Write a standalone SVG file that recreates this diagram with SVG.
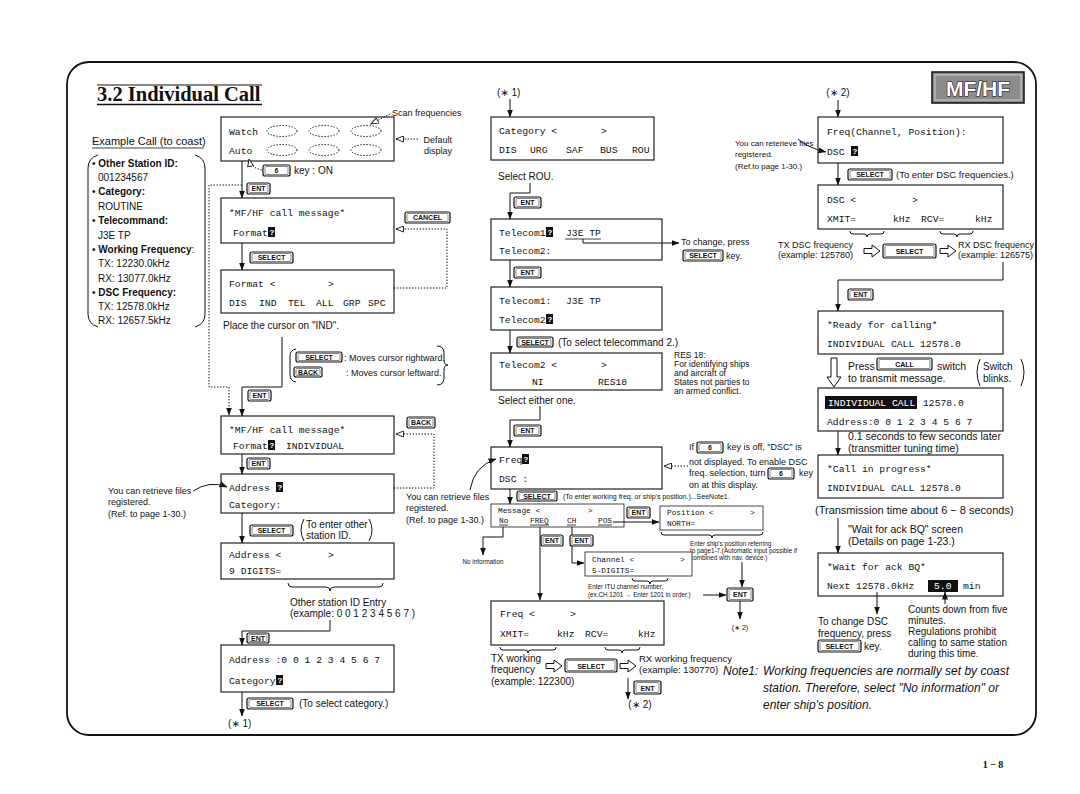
<svg xmlns="http://www.w3.org/2000/svg" width="1080" height="794" viewBox="0 0 1080 794">
<defs>
<style>
text{fill:#111}
.s{font-family:"Liberation Sans",Arial,"DejaVu Sans",sans-serif}
.sr{font-family:"Liberation Serif","Times New Roman",serif}
.m{font-family:"Liberation Mono","Courier New",monospace;font-size:9.7px}
.ms{font-family:"Liberation Mono","Courier New",monospace;font-size:7.8px}
.f12{font-size:12px}.f11{font-size:11px}.f105{font-size:10.5px}.f10{font-size:10px}.f95{font-size:9.5px}.f9{font-size:9px}.f85{font-size:8.5px}.f7{font-size:7px}.f65{font-size:6.3px}
.b{font-weight:bold}.i{font-style:italic}
.lcd{fill:#fff;stroke:#222;stroke-width:1.2}
.lcd2{fill:#fff;stroke:#333;stroke-width:0.9}
.c{fill:none;stroke:#111;stroke-width:1}
.d{fill:none;stroke:#111;stroke-width:1;stroke-dasharray:1.4 1.6}
.k{fill:#fff;stroke:#111;stroke-width:1.2}
.ki{fill:none;stroke:#111;stroke-width:0.5}
.kt{font-family:"Liberation Sans",Arial,sans-serif;font-size:7px;font-weight:bold;text-anchor:middle}
.cur{fill:#111}
.curt{font-family:"Liberation Mono",monospace;font-size:8px;font-weight:bold}
.w{fill:#fff}
.ul{stroke:#111;stroke-width:0.8}
.oa{fill:#fff;stroke:#111;stroke-width:1}
</style>
<marker id="a" viewBox="0 0 8 6" refX="7.5" refY="3" markerWidth="8" markerHeight="6" markerUnits="userSpaceOnUse" orient="auto"><path d="M0,0 L8,3 L0,6 z" fill="#111"/></marker>
<marker id="o" viewBox="0 0 9 7" refX="8" refY="3.5" markerWidth="9" markerHeight="7" markerUnits="userSpaceOnUse" orient="auto"><path d="M0.5,0.5 L8,3.5 L0.5,6.5 z" fill="#fff" stroke="#111" stroke-width="0.9"/></marker>
</defs>
<rect width="1080" height="794" fill="#fff"/>

<g id="frame">
<rect x="67" y="62" width="969" height="673" rx="22" fill="none" stroke="#111" stroke-width="1.8"/>
<text x="993" y="768" class="sr b f10" text-anchor="middle">1 − 8</text>
</g>

<g id="title">
<line x1="97" y1="85" x2="262" y2="85" stroke="#111" stroke-width="1"/>
<text x="97" y="101" class="sr b" font-size="20.5">3.2 Individual Call</text>
<line x1="97" y1="104.5" x2="262" y2="104.5" stroke="#111" stroke-width="1.5"/>
</g>

<g id="badge">
<rect x="932" y="72" width="92" height="31" fill="#8c8c8c" stroke="#111" stroke-width="1.5"/>
<rect x="935" y="75" width="86" height="25" fill="none" stroke="#ddd" stroke-width="0.8"/>
<text x="978" y="96" class="s b" font-size="21" text-anchor="middle" stroke="#111" stroke-width="1.2" paint-order="stroke" style="fill:#fff">MF/HF</text>
</g>

<g id="example">
<text x="92" y="145" class="s f11">Example Call (to coast)</text>
<line x1="92" y1="148" x2="204" y2="148" class="ul"/>
<path d="M98 155 Q88 158 88 168 V314 Q88 324 98 327" class="c" stroke-width="1.4"/>
<path d="M195 155 Q205 158 205 168 V314 Q205 324 195 327" class="c" stroke-width="1.4"/>
<g class="s f10">
<text x="92" y="167"><tspan>• </tspan><tspan class="b">Other Station ID:</tspan></text>
<text x="98" y="181">001234567</text>
<text x="92" y="195"><tspan>• </tspan><tspan class="b">Category:</tspan></text>
<text x="98" y="210">ROUTINE</text>
<text x="92" y="224"><tspan>• </tspan><tspan class="b">Telecommand:</tspan></text>
<text x="98" y="239">J3E TP</text>
<text x="92" y="253"><tspan>• </tspan><tspan class="b">Working Frequency</tspan><tspan>:</tspan></text>
<text x="98" y="267">TX: 12230.0kHz</text>
<text x="98" y="282">RX: 13077.0kHz</text>
<text x="92" y="296"><tspan>• </tspan><tspan class="b">DSC Frequency:</tspan></text>
<text x="98" y="310">TX: 12578.0kHz</text>
<text x="98" y="324">RX: 12657.5kHz</text>
</g>
</g>

<!-- Column 1 nodes -->
<g id="n-watch">
<rect x="221" y="117" width="173" height="44" class="lcd"/>
<text x="229" y="135" class="m">Watch</text>
<text x="229" y="154" class="m">Auto</text>
<ellipse cx="282" cy="131" rx="15" ry="5.5" class="d"/>
<ellipse cx="324" cy="131" rx="15" ry="5.5" class="d"/>
<ellipse cx="366" cy="131" rx="15" ry="5.5" class="d"/>
<ellipse cx="282" cy="150" rx="15" ry="5.5" class="d"/>
<ellipse cx="324" cy="150" rx="15" ry="5.5" class="d"/>
<ellipse cx="366" cy="150" rx="15" ry="5.5" class="d"/>
<text x="392" y="116" class="s f9">Scan frequencies</text>
<text x="452" y="143" class="s f9" text-anchor="end">Default</text>
<text x="452" y="154" class="s f9" text-anchor="end">display</text>
<text x="294" y="174" class="s f10">key : ON</text>
</g>

<g id="n-msg1">
<rect x="221" y="198" width="173" height="45" class="lcd"/>
<text x="229" y="216" class="m">*MF/HF call message*</text>
<text x="233" y="236" class="m">Format</text>
<rect x="268" y="227" width="7" height="10" class="cur"/><text x="269.5" y="235" class="curt w">?</text>
</g>

<g id="n-format">
<rect x="221" y="270" width="173" height="43" class="lcd"/>
<text x="229" y="287" class="m">Format &lt;</text>
<text x="328" y="287" class="m">&gt;</text>
<text y="306" class="m"><tspan x="229">DIS</tspan><tspan x="259">IND</tspan><tspan x="288">TEL</tspan><tspan x="316">ALL</tspan><tspan x="343">GRP</tspan><tspan x="368">SPC</tspan></text>
<text x="223" y="329" class="s f10">Place the cursor on "IND".</text>
</g>

<g id="n-cursorhelp">
<path d="M296 349 Q290 350 290 356 V375 Q290 381 296 382" class="c" stroke-width="1.3"/>
<path d="M437 346 Q444 346 444 353 V360 Q444 365 448 365 Q444 365 444 370 V378 Q444 385 437 385" class="c" stroke-width="1.3"/>
<text x="344" y="361" class="s f9">: Moves cursor rightward.</text>
<text x="346" y="376" class="s f9">: Moves cursor leftward.</text>
</g>

<g id="n-msg2">
<rect x="221" y="416" width="173" height="38" class="lcd"/>
<text x="229" y="433" class="m">*MF/HF call message*</text>
<text x="233" y="449" class="m">Format</text>
<rect x="268" y="440" width="7" height="10" class="cur"/><text x="269.5" y="448" class="curt w">?</text>
<text x="286" y="449" class="m">INDIVIDUAL</text>
</g>

<g id="n-addr1">
<rect x="221" y="474" width="173" height="39" class="lcd"/>
<text x="229" y="491" class="m">Address</text>
<rect x="276" y="482" width="7" height="10" class="cur"/><text x="277.5" y="490" class="curt w">?</text>
<text x="229" y="508" class="m">Category:</text>
<text x="108" y="494" class="s f9">You can retrieve files</text>
<text x="108" y="505" class="s f9">registered.</text>
<text x="108" y="517" class="s f9">(Ref. to page 1-30.)</text>
<path d="M304 519 Q298 530 304 541" class="c"/>
<path d="M369 519 Q375 530 369 541" class="c"/>
<text x="306" y="528" class="s f10">To enter other</text>
<text x="306" y="539" class="s f10">station ID.</text>
</g>

<g id="n-addr2">
<rect x="221" y="543" width="173" height="36" class="lcd"/>
<text x="229" y="558" class="m">Address &lt;</text>
<text x="328" y="558" class="m">&gt;</text>
<text x="229" y="574" class="m">9 DIGITS=</text>
<text x="290" y="606" class="s f10">Other station ID Entry</text>
<text x="290" y="617" class="s f10">(example: 0 0 1 2 3 4 5 6 7 )</text>
</g>

<g id="n-addr3">
<rect x="221" y="645" width="173" height="47" class="lcd"/>
<text x="229" y="663" class="m">Address :0 0 1 2 3 4 5 6 7</text>
<text x="229" y="684" class="m">Category</text>
<rect x="276" y="675" width="7" height="10" class="cur"/><text x="277.5" y="683" class="curt w">?</text>
<text x="299" y="707" class="s f10">(To select category.)</text>
<text x="228" y="727" class="s f10">(∗ 1)</text>
</g>

<!-- Column 2 nodes -->
<g id="n-cat">
<text x="497" y="96" class="s f10">(∗ 1)</text>
<rect x="491" y="117" width="163" height="43" class="lcd"/>
<text x="499" y="134" class="m">Category &lt;</text>
<text x="601" y="134" class="m">&gt;</text>
<text y="153" class="m"><tspan x="499">DIS</tspan><tspan x="530">URG</tspan><tspan x="566">SAF</tspan><tspan x="600">BUS</tspan><tspan x="632">ROU</tspan></text>
<text x="498" y="180" class="s f10">Select ROU.</text>
</g>

<g id="n-tel1">
<rect x="491" y="219" width="171" height="41" class="lcd"/>
<text x="499" y="236" class="m">Telecom1</text>
<rect x="546" y="227" width="7" height="10" class="cur"/><text x="547.5" y="235" class="curt w">?</text>
<text x="566" y="236" class="m">J3E TP</text>
<line x1="565" y1="239" x2="601" y2="239" class="ul"/>
<text x="499" y="254" class="m">Telecom2:</text>
<text x="681" y="245" class="s f9">To change, press</text>
<text x="726" y="259" class="s f9">key.</text>
</g>

<g id="n-tel2">
<rect x="491" y="287" width="171" height="43" class="lcd"/>
<text x="499" y="304" class="m">Telecom1:</text>
<text x="566" y="304" class="m">J3E TP</text>
<text x="499" y="323" class="m">Telecom2</text>
<rect x="546" y="314" width="7" height="10" class="cur"/><text x="547.5" y="322" class="curt w">?</text>
<text x="558" y="346" class="s f10">(To select telecommand 2.)</text>
</g>

<g id="n-tel3">
<rect x="491" y="353" width="171" height="37" class="lcd"/>
<text x="499" y="368" class="m">Telecom2 &lt;</text>
<text x="601" y="368" class="m">&gt;</text>
<text x="532" y="385" class="m">NI</text>
<text x="598" y="385" class="m">RES18</text>
<g class="s f85">
<text x="674" y="358">RES 18:</text>
<text x="674" y="367">For identifying ships</text>
<text x="674" y="376">and aircraft of</text>
<text x="674" y="385">States not parties to</text>
<text x="674" y="394">an armed conflict.</text>
</g>
<text x="498" y="404" class="s f10">Select either one.</text>
</g>

<g id="n-freq1">
<rect x="491" y="447" width="171" height="42" class="lcd"/>
<text x="499" y="463" class="m">Freq</text>
<rect x="522" y="454" width="7" height="10" class="cur"/><text x="523.5" y="462" class="curt w">?</text>
<text x="499" y="482" class="m">DSC :</text>
<g class="s f9">
<text x="689" y="450">If</text>
<text x="727" y="450">key is off, "DSC" is</text>
<text x="689" y="465">not displayed. To enable DSC</text>
<text x="689" y="476">freq. selection, turn</text>
<text x="799" y="476">key</text>
<text x="689" y="488">on at this display.</text>
</g>
<text x="406" y="500" class="s f9">You can retrieve files</text>
<text x="406" y="511" class="s f9">registered.</text>
<text x="406" y="523" class="s f9">(Ref. to page 1-30.)</text>
<text x="563" y="499" class="s f7">(To enter working freq. or ship's position.)...SeeNote1.</text>
</g>

<g id="n-message">
<rect x="491" y="504" width="133" height="23" class="lcd2"/>
<text x="498" y="513" class="ms">Message &lt;</text>
<text x="588" y="513" class="ms">&gt;</text>
<text y="523" class="ms"><tspan x="499">No</tspan><tspan x="530">FREQ</tspan><tspan x="567">CH</tspan><tspan x="598">POS</tspan></text>
<line x1="499" y1="525" x2="508" y2="525" class="ul" stroke-width="0.6"/>
<line x1="530" y1="525" x2="549" y2="525" class="ul" stroke-width="0.6"/>
<line x1="567" y1="525" x2="576" y2="525" class="ul" stroke-width="0.6"/>
<line x1="598" y1="525" x2="612" y2="525" class="ul" stroke-width="0.6"/>
<text x="483" y="564" class="s f65" text-anchor="middle">No information</text>
</g>

<g id="n-position">
<rect x="660" y="506" width="103" height="24" class="lcd2"/>
<text x="667" y="515" class="ms">Position &lt;</text>
<text x="750" y="515" class="ms">&gt;</text>
<text x="667" y="526" class="ms">NORTH=</text>
<g class="s f65">
<text x="690" y="546">Enter ship's position referring</text>
<text x="690" y="553">to page1-7.(Automatic input possible if</text>
<text x="690" y="560">combined with nav. device.)</text>
</g>
<text x="740" y="630" class="s f7" text-anchor="middle">(∗ 2)</text>
</g>

<g id="n-channel">
<rect x="585" y="552" width="107" height="24" class="lcd2"/>
<text x="592" y="562" class="ms">Channel &lt;</text>
<text x="680" y="562" class="ms">&gt;</text>
<text x="592" y="573" class="ms">5-DIGITS=</text>
<text x="588" y="589" class="s f65">Enter ITU channel number.</text>
<text x="588" y="597" class="s f65">(ex.CH 1201 → Enter 1201 in order.)</text>
</g>

<g id="n-freq2">
<rect x="491" y="601" width="173" height="44" class="lcd"/>
<text x="500" y="617" class="m">Freq &lt;</text>
<text x="570" y="617" class="m">&gt;</text>
<text y="637" class="m"><tspan x="500">XMIT=</tspan><tspan x="557">kHz</tspan><tspan x="585">RCV=</tspan><tspan x="638">kHz</tspan></text>
<g class="s f10">
<text x="491" y="662">TX working</text>
<text x="491" y="673">frequency</text>
<text x="491" y="685">(example: 122300)</text>
</g>
<g class="s f95">
<text x="639" y="662">RX working frequency</text>
<text x="639" y="673">(example: 130770)</text>
</g>
<text x="640" y="708" class="s f10" text-anchor="middle">(∗ 2)</text>
</g>

<g id="n-note">
<text x="723" y="675" class="s i f12">Note1:</text>
<text x="763" y="675" class="s i f12">Working frequencies are normally set by coast</text>
<text x="763" y="692" class="s i f12">station. Therefore, select "No information" or</text>
<text x="763" y="709" class="s i f12">enter ship's position.</text>
</g>

<!-- Column 3 nodes -->
<g id="n-fcp">
<text x="838" y="96" class="s f10" text-anchor="middle">(∗ 2)</text>
<rect x="818" y="117" width="185" height="46" class="lcd"/>
<text x="827" y="135" class="m">Freq(Channel, Position):</text>
<text x="827" y="155" class="m">DSC</text>
<rect x="851" y="146" width="7" height="10" class="cur"/><text x="852.5" y="154" class="curt w">?</text>
<text x="735" y="146" class="s" font-size="8">You can reterieve files</text>
<text x="735" y="157" class="s" font-size="8">registered.</text>
<text x="735" y="169" class="s" font-size="8">(Ref.to page 1-30.)</text>
<text x="896" y="178" class="s f95">(To enter DSC frequencies.)</text>
</g>

<g id="n-dsc">
<rect x="818" y="185" width="185" height="44" class="lcd"/>
<text x="827" y="203" class="m">DSC &lt;</text>
<text x="912" y="203" class="m">&gt;</text>
<text y="222" class="m"><tspan x="827">XMIT=</tspan><tspan x="893">kHz</tspan><tspan x="921">RCV=</tspan><tspan x="975">kHz</tspan></text>
<g class="s f9">
<text x="778" y="248">TX DSC frequency</text>
<text x="778" y="258">(example: 125780)</text>
<text x="958" y="248">RX DSC frequency</text>
<text x="958" y="258">(example: 126575)</text>
</g>
</g>

<g id="n-ready">
<rect x="818" y="311" width="185" height="43" class="lcd"/>
<text x="827" y="328" class="m">*Ready for calling*</text>
<text x="827" y="347" class="m">INDIVIDUAL CALL 12578.0</text>
<g class="s f105">
<text x="848" y="370">Press</text>
<text x="937" y="370">switch</text>
<text x="848" y="382">to transmit message.</text>
</g>
<g class="s f10">
<text x="983" y="370">Switch</text>
<text x="983" y="382">blinks.</text>
</g>
<path d="M980 359 Q974 372 980 386" class="c"/>
<path d="M1021 359 Q1027 372 1021 386" class="c"/>
</g>

<g id="n-indiv">
<rect x="818" y="388" width="185" height="43" class="lcd"/>
<rect x="825" y="396" width="92" height="13" class="cur"/>
<text x="828" y="406" class="m w">INDIVIDUAL CALL</text>
<text x="923" y="406" class="m">12578.0</text>
<text x="827" y="425" class="m">Address:0 0 1 2 3 4 5 6 7</text>
<text x="848" y="440" class="s f105">0.1 seconds to few seconds later</text>
<text x="848" y="452" class="s f105">(transmitter tuning time)</text>
</g>

<g id="n-call">
<rect x="818" y="455" width="185" height="43" class="lcd"/>
<text x="827" y="472" class="m">*Call in progress*</text>
<text x="827" y="491" class="m">INDIVIDUAL CALL 12578.0</text>
<text x="815" y="514" class="s f11">(Transmission time about 6 − 8 seconds)</text>
<text x="848" y="533" class="s f105">"Wait for ack BQ" screen</text>
<text x="848" y="545" class="s f105">(Details on page 1-23.)</text>
</g>

<g id="n-wait">
<rect x="818" y="553" width="185" height="43" class="lcd"/>
<text x="827" y="570" class="m">*Wait for ack BQ*</text>
<text x="827" y="589" class="m">Next 12578.0kHz</text>
<rect x="928" y="580" width="30" height="12" class="cur"/>
<text x="934" y="589" class="m w">5.0</text>
<text x="963" y="589" class="m">min</text>
<g class="s f10">
<text x="818" y="625">To change DSC</text>
<text x="818" y="637">frequency, press</text>
<text x="864" y="650">key.</text>
<text x="908" y="613">Counts down from five</text>
<text x="908" y="624">minutes.</text>
<text x="908" y="635">Regulations prohibit</text>
<text x="908" y="646">calling to same station</text>
<text x="908" y="657">during this time.</text>
</g>
</g>

<!-- Connectors -->
<g id="connectors">
<path d="M242 161 V198" class="c" marker-end="url(#a)"/>
<path d="M262 170 Q251 168 249 159" class="d" marker-end="url(#o)"/>
<path d="M390 114 L371 124" class="d" marker-end="url(#o)"/>
<path d="M418 139 H396" class="d" marker-end="url(#o)"/>
<path d="M242 185 H209 V387 H229 V415" class="d" marker-end="url(#a)"/>
<path d="M394 288 H447 V229 H396" class="d" marker-end="url(#o)"/>
<path d="M242 243 V270" class="c" marker-end="url(#a)"/>
<path d="M282 337 V387 H242 V416" class="c" marker-end="url(#a)"/>
<path d="M394 488 H434 V434 H396" class="d" marker-end="url(#o)"/>
<path d="M242 454 V474" class="c" marker-end="url(#a)"/>
<path d="M193 491 Q210 480 227 487" class="c" marker-end="url(#a)"/>
<path d="M242 513 V543" class="c" marker-end="url(#a)"/>
<path d="M288 583 Q288 587 292 587 H326 Q330 587 330 591 Q330 587 334 587 H379 Q383 587 383 583" class="c" stroke-width="0.8"/>
<path d="M330 620 V631 H242 V645" class="c" marker-end="url(#a)"/>
<path d="M242 692 V716" class="c" marker-end="url(#a)"/>

<path d="M510 99 V117" class="c" marker-end="url(#a)"/>
<path d="M530 183 V193 H510 V219" class="c" marker-end="url(#a)"/>
<path d="M583 239 V243 H679" class="c" marker-end="url(#a)"/>
<path d="M510 260 V287" class="c" marker-end="url(#a)"/>
<path d="M510 330 V353" class="c" marker-end="url(#a)"/>
<path d="M540 406 V420 H510 V447" class="c" marker-end="url(#a)"/>
<path d="M688 466 H664" class="d" marker-end="url(#o)"/>
<path d="M470 490 Q474 466 496 459" class="c" marker-end="url(#a)"/>
<path d="M510 489 V504" class="c" marker-end="url(#a)"/>
<path d="M613 522 H659" class="c" marker-end="url(#a)"/>
<path d="M661 532 Q661 535 664 535 H709 Q712 535 712 538 Q712 535 715 535 H760 Q763 535 763 532" class="c" stroke-width="0.7"/>
<path d="M742 562 V587" class="c" marker-end="url(#a)"/>
<path d="M740 601 V619" class="c" marker-end="url(#a)"/>
<path d="M503 527 V537 H483 V555" class="c" marker-end="url(#a)"/>
<path d="M572 527 V563 H584" class="c" marker-end="url(#a)"/>
<path d="M632 578 Q632 581 635 581 H647 Q650 581 650 584 Q650 581 653 581 H665 Q668 581 668 578" class="c" stroke-width="0.7"/>
<path d="M703 595 H726" class="c" marker-end="url(#a)"/>
<path d="M540 527 V600" class="c" marker-end="url(#a)"/>
<path d="M500 647 Q500 650 503 650 H525 Q528 650 528 653 Q528 650 531 650 H553 Q556 650 556 647" class="c" stroke-width="0.8"/>
<path d="M605 647 Q605 650 608 650 H619 Q622 650 622 653 Q622 650 625 650 H637 Q640 650 640 647" class="c" stroke-width="0.8"/>
<polygon points="546,663.5 554,663.5 554,660 562,666 554,672 554,668.5 546,668.5" class="oa"/>
<polygon points="620,663.5 628,663.5 628,660 636,666 628,672 628,668.5 620,668.5" class="oa"/>
<path d="M628 678 V699" class="c" marker-end="url(#a)"/>

<path d="M838 100 V117" class="c" marker-end="url(#a)"/>
<path d="M798 139 Q808 148 826 152" class="c" marker-end="url(#a)"/>
<path d="M838 163 V185" class="c" marker-end="url(#a)"/>
<path d="M850 231 Q850 234 853 234 H864 Q867 234 867 237 Q867 234 870 234 H881 Q884 234 884 231" class="c" stroke-width="0.8"/>
<path d="M940 231 Q940 234 943 234 H954 Q957 234 957 237 Q957 234 960 234 H970 Q973 234 973 231" class="c" stroke-width="0.8"/>
<polygon points="864,248.5 872,248.5 872,245 880,251 872,257 872,253.5 864,253.5" class="oa"/>
<polygon points="940,248.5 948,248.5 948,245 956,251 948,257 948,253.5 940,253.5" class="oa"/>
<path d="M1003 262 V280 H838 V311" class="c" marker-end="url(#a)"/>
<polygon points="831,358 837,358 837,377 841,377 834,387 827,377 831,377" class="oa"/>
<path d="M838 431 V455" class="c" marker-end="url(#a)"/>
<path d="M838 518 V553" class="c" marker-end="url(#a)"/>
<path d="M877 592 V614" class="c" marker-end="url(#a)"/>
<path d="M945 604 V592" class="c" marker-end="url(#a)"/>
</g>

<!-- Keys -->
<g id="keys">
<g><rect x="263" y="165" width="27" height="11" rx="2" class="k"/><rect x="265" y="166.5" width="23" height="8" rx="1" class="ki"/><text x="276.5" y="173" class="kt">6</text></g>
<g><rect x="247" y="183" width="23" height="11" rx="2" class="k"/><rect x="249" y="184.5" width="19" height="8" rx="1" class="ki"/><text x="258.5" y="191" class="kt">ENT</text></g>
<g><rect x="405" y="212" width="45" height="11" rx="2" class="k"/><rect x="407" y="213.5" width="41" height="8" rx="1" class="ki"/><text x="427.5" y="220" class="kt">CANCEL</text></g>
<g><rect x="250" y="252" width="43" height="11" rx="2" class="k"/><rect x="252" y="253.5" width="39" height="8" rx="1" class="ki"/><text x="271.5" y="260" class="kt">SELECT</text></g>
<g><rect x="296" y="352" width="46" height="10" rx="2" class="k"/><rect x="298" y="353.5" width="42" height="7" rx="1" class="ki"/><text x="319" y="359.5" class="kt">SELECT</text></g>
<g><rect x="294" y="367" width="28" height="10" rx="2" class="k"/><rect x="296" y="368.5" width="24" height="7" rx="1" class="ki"/><text x="308" y="374.5" class="kt">BACK</text></g>
<g><rect x="248" y="390" width="23" height="11" rx="2" class="k"/><rect x="250" y="391.5" width="19" height="8" rx="1" class="ki"/><text x="259.5" y="398" class="kt">ENT</text></g>
<g><rect x="407" y="417" width="28" height="11" rx="2" class="k"/><rect x="409" y="418.5" width="24" height="8" rx="1" class="ki"/><text x="421" y="425" class="kt">BACK</text></g>
<g><rect x="247" y="458" width="23" height="11" rx="2" class="k"/><rect x="249" y="459.5" width="19" height="8" rx="1" class="ki"/><text x="258.5" y="466" class="kt">ENT</text></g>
<g><rect x="250" y="525" width="43" height="11" rx="2" class="k"/><rect x="252" y="526.5" width="39" height="8" rx="1" class="ki"/><text x="271.5" y="533" class="kt">SELECT</text></g>
<g><rect x="247" y="633" width="22" height="10" rx="2" class="k"/><rect x="249" y="634.5" width="18" height="7" rx="1" class="ki"/><text x="258" y="640.5" class="kt">ENT</text></g>
<g><rect x="247" y="698" width="46" height="11" rx="2" class="k"/><rect x="249" y="699.5" width="42" height="8" rx="1" class="ki"/><text x="270" y="706" class="kt">SELECT</text></g>

<g><rect x="514" y="197" width="27" height="11" rx="2" class="k"/><rect x="516" y="198.5" width="23" height="8" rx="1" class="ki"/><text x="527.5" y="205" class="kt">ENT</text></g>
<g><rect x="683" y="250" width="40" height="11" rx="2" class="k"/><rect x="685" y="251.5" width="36" height="8" rx="1" class="ki"/><text x="703" y="258" class="kt">SELECT</text></g>
<g><rect x="514" y="267" width="27" height="11" rx="2" class="k"/><rect x="516" y="268.5" width="23" height="8" rx="1" class="ki"/><text x="527.5" y="275" class="kt">ENT</text></g>
<g><rect x="517" y="337" width="36" height="10" rx="2" class="k"/><rect x="519" y="338.5" width="32" height="7" rx="1" class="ki"/><text x="535" y="344.5" class="kt">SELECT</text></g>
<g><rect x="514" y="425" width="27" height="11" rx="2" class="k"/><rect x="516" y="426.5" width="23" height="8" rx="1" class="ki"/><text x="527.5" y="433" class="kt">ENT</text></g>
<g><rect x="697" y="442" width="26" height="11" rx="2" class="k"/><rect x="699" y="443.5" width="22" height="8" rx="1" class="ki"/><text x="710" y="450" class="kt">6</text></g>
<g><rect x="768" y="468" width="26" height="11" rx="2" class="k"/><rect x="770" y="469.5" width="22" height="8" rx="1" class="ki"/><text x="781" y="476" class="kt">6</text></g>
<g><rect x="517" y="491" width="40" height="10" rx="2" class="k"/><rect x="519" y="492.5" width="36" height="7" rx="1" class="ki"/><text x="537" y="498.5" class="kt">SELECT</text></g>
<g><rect x="627" y="507" width="23" height="11" rx="2" class="k"/><rect x="629" y="508.5" width="19" height="8" rx="1" class="ki"/><text x="638.5" y="515" class="kt">ENT</text></g>
<g><rect x="541" y="535" width="22" height="11" rx="2" class="k"/><rect x="543" y="536.5" width="18" height="8" rx="1" class="ki"/><text x="552" y="543" class="kt">ENT</text></g>
<g><rect x="570" y="535" width="23" height="11" rx="2" class="k"/><rect x="572" y="536.5" width="19" height="8" rx="1" class="ki"/><text x="581.5" y="543" class="kt">ENT</text></g>
<g><rect x="727" y="588" width="26" height="13" rx="2" class="k"/><rect x="729" y="589.5" width="22" height="10" rx="1" class="ki"/><text x="740" y="597" class="kt">ENT</text></g>
<g><rect x="565" y="659" width="52" height="13" rx="2" class="k"/><rect x="567" y="660.5" width="48" height="10" rx="1" class="ki"/><text x="591" y="668.5" class="kt" font-size="8">SELECT</text></g>
<g><rect x="634" y="681" width="27" height="13" rx="2" class="k"/><rect x="636" y="682.5" width="23" height="10" rx="1" class="ki"/><text x="647.5" y="690.5" class="kt" font-size="8">ENT</text></g>

<g><rect x="848" y="169" width="44" height="11" rx="2" class="k"/><rect x="850" y="170.5" width="40" height="8" rx="1" class="ki"/><text x="870" y="177" class="kt">SELECT</text></g>
<g><rect x="883" y="244" width="53" height="14" rx="2" class="k"/><rect x="885" y="245.5" width="49" height="11" rx="1" class="ki"/><text x="909.5" y="254" class="kt" font-size="8">SELECT</text></g>
<g><rect x="848" y="289" width="25" height="11" rx="2" class="k"/><rect x="850" y="290.5" width="21" height="8" rx="1" class="ki"/><text x="860.5" y="297" class="kt">ENT</text></g>
<g><rect x="877" y="358" width="55" height="12" rx="2" class="k"/><rect x="879" y="359.5" width="51" height="9" rx="1" class="ki"/><text x="904.5" y="367" class="kt" font-size="7.5">CALL</text></g>
<g><rect x="818" y="640" width="43" height="12" rx="2" class="k"/><rect x="820" y="641.5" width="39" height="9" rx="1" class="ki"/><text x="839.5" y="649" class="kt">SELECT</text></g>
</g>
</svg>
